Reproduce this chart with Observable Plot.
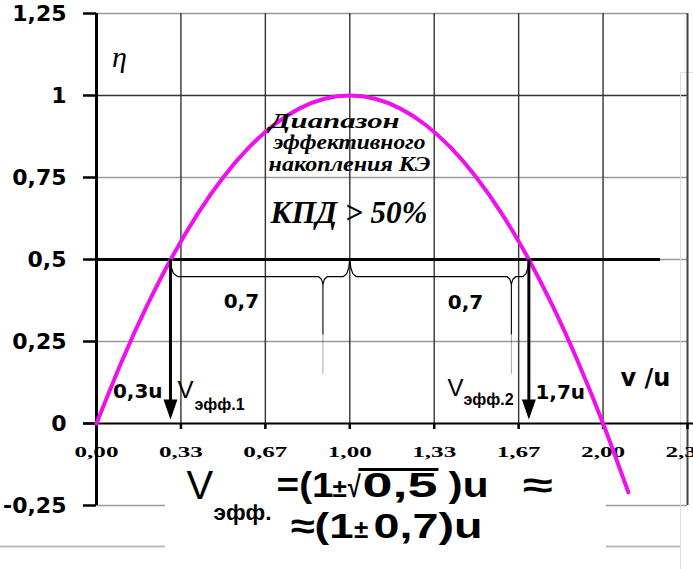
<!DOCTYPE html>
<html>
<head>
<meta charset="utf-8">
<script src="https://cdn.jsdelivr.net/npm/d3@7"></script>
<script src="https://cdn.jsdelivr.net/npm/@observablehq/plot@0.6"></script>
<style>
  html, body { margin: 0; padding: 0; background: #fff; }
  #chart svg { display: block; background: #fff; }
</style>
</head>
<body>
<div id="chart"></div>
<script>
// ---- data ----
const vu  = [0, 0.1, 0.2, 0.3, 0.4, 0.5, 0.6, 0.7, 0.8, 0.9, 1.0, 1.1, 1.2, 1.3, 1.4, 1.5, 1.6, 1.7, 1.8, 1.9, 2.0, 2.1];
const eta = [0, 0.19, 0.36, 0.51, 0.64, 0.75, 0.84, 0.91, 0.96, 0.99, 1.0, 0.99, 0.96, 0.91, 0.84, 0.75, 0.64, 0.51, 0.36, 0.19, 0, -0.21];

const xTicks = [0, 1/3, 2/3, 1, 4/3, 5/3, 2, 7/3];
const xTickLabels = ["0,00", "0,33", "0,67", "1,00", "1,33", "1,67", "2,00", "2,33"];
const yTicks = [-0.25, 0, 0.25, 0.5, 0.75, 1, 1.25];
const yTickLabels = ["-0,25", "0", "0,25", "0,5", "0,75", "1", "1,25"];

const threshold = 0.5;          // КПД = 50%
const vEff = [0.292, 1.707];    // V эфф.1, V эфф.2

// brace outline (data units)
const braceX = [0.292,0.296,0.304,0.320,0.876,0.888,0.894,0.900,0.912,0.975,0.988,0.996,1.0,1.004,1.012,1.025,1.620,1.632,1.638,1.644,1.656,1.684,1.696,1.703,1.707];
const braceY = [0.5,0.475,0.457,0.448,0.448,0.44,0.425,0.44,0.448,0.448,0.457,0.475,0.5,0.475,0.457,0.448,0.448,0.44,0.425,0.44,0.448,0.448,0.457,0.475,0.5];
const tailX = [0.894, 1.638];

const curve = vu.map((x, i) => ({x, y: eta[i]}));
const brace = braceX.map((x, i) => ({x, y: braceY[i]}));

const downTri = { draw(ctx) { ctx.moveTo(-7, -20); ctx.lineTo(7, -20); ctx.lineTo(0, 0); ctx.closePath(); } };

const sans = "Liberation Sans, Arial, sans-serif";
const dejaBold = "DejaVu Sans, sans-serif";
const serif = "Liberation Serif, Times New Roman, serif";

function lbl(text, x, y, o) {
  return Plot.text([text], {x: () => x, y: () => y, text: d => d, lineAnchor: "bottom", fill: "black", ...o});
}
const fb = {fontFamily: sans, fontWeight: "bold", fontSize: 35, textAnchor: "start"};

const chart = Plot.plot({
  width: 693,
  height: 569,
  marginLeft: 96,
  marginRight: 6,
  marginTop: 13,
  marginBottom: 64,
  x: {domain: [0, 7/3]},
  y: {domain: [-0.25, 1.25]},
  marks: [
    // horizontal gridlines
    Plot.ruleY([0.25, 0.5, 0.75, 1.25], {x1: 0, x2: 7/3, stroke: "#999", strokeWidth: 1.5}),
    Plot.ruleY([1], {x1: 0, x2: 7/3, stroke: "#333", strokeWidth: 1.3}),
    Plot.ruleY([-0.25, -0.25], {x1: [0, 2.013], x2: [0.272, 7/3], stroke: "#999", strokeWidth: 1.5}),
    Plot.ruleY([-0.375, -0.375], {x1: [-0.379, 2.013], x2: [0.272, 2.306], stroke: "#bbb", strokeWidth: 2}),
    Plot.line([{x: 2.306, y: -0.45}, {x: 2.306, y: 1.07}, {x: 2.36, y: 1.07}], {x: "x", y: "y", stroke: "#ddd", strokeWidth: 1}),
    // vertical gridlines
    Plot.ruleX(xTicks.slice(1, 7), {y1: 0, y2: 1.25, stroke: "#333", strokeWidth: 1.4}),
    Plot.ruleX([7/3], {y1: -0.25, y2: 1.25, stroke: "#444", strokeWidth: 2}),
    // axes lines
    Plot.ruleX([0], {y1: -0.25, y2: 1.25, stroke: "black", strokeWidth: 3}),
    Plot.ruleY([0], {x1: -0.051, x2: 2.4, stroke: "black", strokeWidth: 2}),
    Plot.axisY({ticks: yTicks, tickSize: 13, tickPadding: 17, tickFormat: d => yTickLabels[yTicks.indexOf(d)],
      fontSize: 22, fontWeight: "bold", fontFamily: dejaBold, label: null}),
    Plot.axisX({ticks: xTicks, tickSize: 6, tickPadding: 18, anchor: "bottom", y: 0,
      tickFormat: d => xTickLabels[xTicks.findIndex(t => Math.abs(t - d) < 1e-9)],
      fontSize: 14, fontWeight: "bold", fontFamily: serif, label: null}),
    // threshold line
    Plot.ruleY([threshold], {x1: 0, x2: 2.227, stroke: "black", strokeWidth: 3}),
    // efficiency curve
    Plot.line(curve, {x: "x", y: "y", stroke: "#ee11ee", strokeWidth: 4, curve: "natural"}),
    // braces
    Plot.line(brace, {x: "x", y: "y", stroke: "black", strokeWidth: 1.2, curve: "linear"}),
    Plot.ruleX(tailX, {y1: 0.425, y2: 0.27, stroke: "black", strokeWidth: 1.1}),
    Plot.ruleX(tailX, {y1: 0.27, y2: 0.15, stroke: "black", strokeWidth: 1, strokeOpacity: 0.35}),
    // arrows
    Plot.ruleX(vEff, {y1: threshold, y2: 0.064, stroke: "black", strokeWidth: 3}),
    Plot.dot(vEff, {x: d => d, y: () => 0.012, symbol: downTri, fill: "black", stroke: "none"}),
    // labels
    lbl("η", 0.091, 1.088, {fontFamily: serif, fontStyle: "italic", fontSize: 30, textAnchor: "middle"}),
    lbl("Диапазон", 0.940, 0.902, {fontFamily: serif, fontStyle: "italic", fontWeight: "bold", fontSize: 20, textAnchor: "middle"}),
    lbl("эффективного", 0.999, 0.838, {fontFamily: serif, fontStyle: "italic", fontWeight: "bold", fontSize: 20, textAnchor: "middle"}),
    lbl("накопления КЭ", 0.999, 0.771, {fontFamily: serif, fontStyle: "italic", fontWeight: "bold", fontSize: 20, textAnchor: "middle"}),
    lbl("КПД > 50%", 0.997, 0.610, {fontFamily: serif, fontStyle: "italic", fontWeight: "bold", fontSize: 32, textAnchor: "middle"}),
    lbl("0,7", 0.572, 0.351, {fontFamily: dejaBold, fontWeight: "bold", fontSize: 20, textAnchor: "middle"}),
    lbl("0,7", 1.457, 0.348, {fontFamily: dejaBold, fontWeight: "bold", fontSize: 20, textAnchor: "middle"}),
    lbl("0,3u", 0.261, 0.079, {fontFamily: dejaBold, fontWeight: "bold", fontSize: 20, textAnchor: "end"}),
    lbl("V", 0.320, 0.079, {fontFamily: sans, fontSize: 24, textAnchor: "start"}),
    lbl("эфф.1", 0.387, 0.040, {fontFamily: sans, fontWeight: "bold", fontSize: 16, textAnchor: "start"}),
    lbl("V", 1.386, 0.085, {fontFamily: sans, fontSize: 24, textAnchor: "start"}),
    lbl("эфф.2", 1.449, 0.055, {fontFamily: sans, fontWeight: "bold", fontSize: 16, textAnchor: "start"}),
    lbl("1,7u", 1.733, 0.076, {fontFamily: dejaBold, fontWeight: "bold", fontSize: 20, textAnchor: "start"}),
    lbl("v /u", 2.069, 0.113, {fontFamily: dejaBold, fontWeight: "bold", fontSize: 24, textAnchor: "start"}),
    // formula, line 1
    lbl("V", 0.355, -0.229, {fontFamily: sans, fontSize: 40, textAnchor: "start"}),
    lbl("эфф.", 0.462, -0.293, {fontFamily: sans, fontWeight: "bold", fontSize: 22, textAnchor: "start"}),
    lbl("=(1", 0.711, -0.2226, fb),
    lbl("±", 0.932, -0.2226, {...fb, fontSize: 26}),
    lbl("√", 0.992, -0.2226, {...fb, fontSize: 30}),
    Plot.ruleY([-0.14], {x1: 1.036, x2: 1.352, stroke: "black", strokeWidth: 3}),
    lbl("0,5", 1.050, -0.2226, fb),
    lbl(")u", 1.390, -0.2226, fb),
    lbl("≈", 1.682, -0.2226, fb),
    // formula, line 2
    lbl("≈(1", 0.766, -0.348, fb),
    lbl("±", 1.017, -0.348, {...fb, fontSize: 26}),
    lbl("0,7)u", 1.094, -0.348, fb)
  ]
});

const s = d3.select(chart);
s.selectAll('g[aria-label="y-axis tick"] path').attr("stroke-width", 2.5);
s.selectAll('g[aria-label="x-axis tick"] path').attr("stroke-width", 2.5);
s.selectAll('g[aria-label="x-axis tick label"] text').attr("textLength", 44).attr("lengthAdjust", "spacingAndGlyphs");
const lens = {"Диапазон": 130, "эффективного": 152, "накопления КЭ": 162, "КПД > 50%": 157, "эфф.": 58,
  "=(1": 57, "√": 13, "0,5": 75, ")u": 40, "≈": 30, "≈(1": 63, "0,7)u": 109};
s.selectAll("text")
  .filter(function() { return !this.closest('g[aria-label*="axis"]'); })
  .each(function() {
    const t = this.textContent;
    if (lens[t] !== undefined) d3.select(this).attr("textLength", lens[t]).attr("lengthAdjust", "spacingAndGlyphs");
  });
document.getElementById("chart").appendChild(chart);
</script>
</body>
</html>
